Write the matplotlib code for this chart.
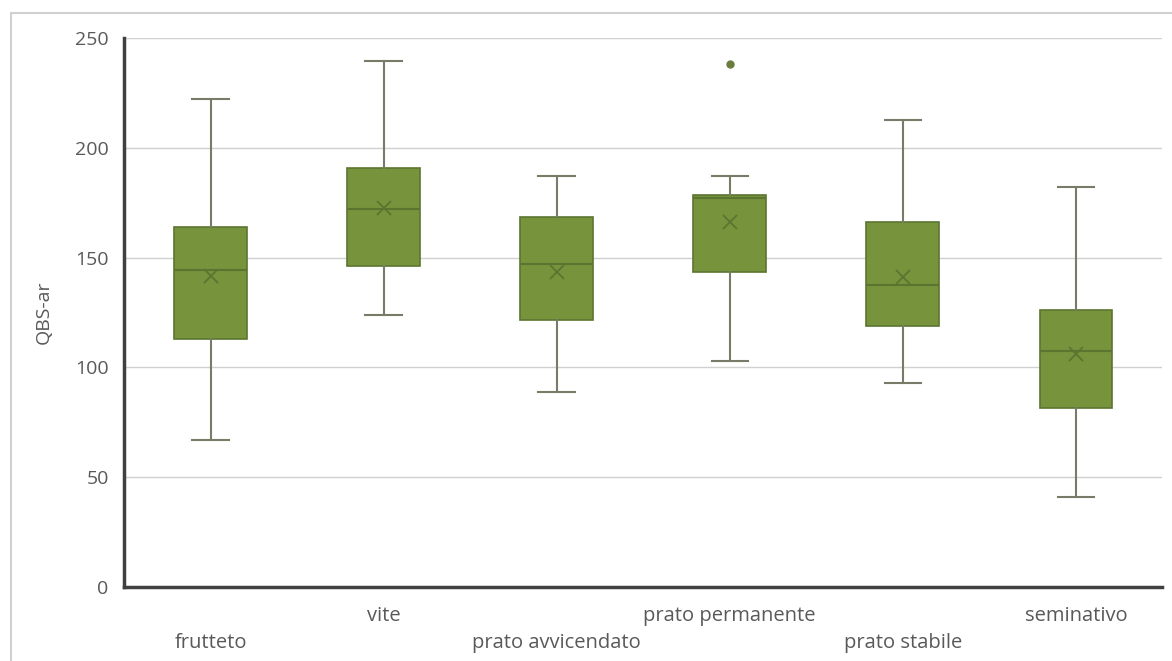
import matplotlib
matplotlib.use("Agg")
import matplotlib.pyplot as plt
from matplotlib.patches import Rectangle

plt.rcParams['font.family'] = ['Open Sans', 'DejaVu Sans']

categories = ['frutteto', 'vite', 'prato avvicendato', 'prato permanente', 'prato stabile', 'seminativo']
whis_lo = [67, 124, 89, 103, 93, 41]
q1 = [113, 146, 121.5, 143.5, 119, 81.5]
median = [144.5, 172, 147, 177, 137.5, 107.5]
mean = [141.5, 172.5, 143.5, 166, 141, 106]
q3 = [164, 191, 168.5, 178.5, 166, 126]
whis_hi = [222, 239.5, 187, 187, 212.5, 182]
outliers = [[], [], [], [238], [], []]

stats = []
for i, name in enumerate(categories):
    stats.append(dict(label=name, whislo=whis_lo[i], q1=q1[i], med=median[i],
                      q3=q3[i], whishi=whis_hi[i], mean=mean[i], fliers=outliers[i]))

fig = plt.figure(figsize=(11.72, 6.61), dpi=100)
ax = fig.add_axes([0.1058, 0.112, 0.886, 0.8305])

# cornice grigia del grafico
fig.patches.append(Rectangle((0.0094, -0.1), 1.2, 1.08, transform=fig.transFigure,
                             fill=False, edgecolor='#d0d0d0', linewidth=1.5))

green = '#77933C'
dark = '#5b7530'
grey = '#7a7a68'
ax.bxp(stats, positions=range(len(categories)), widths=0.42, patch_artist=True,
       showmeans=True,
       boxprops=dict(facecolor=green, edgecolor=dark, linewidth=1.2),
       medianprops=dict(color=dark, linewidth=1.5),
       whiskerprops=dict(color=grey, linewidth=1.5),
       capprops=dict(color=grey, linewidth=1.5),
       meanprops=dict(marker='x', markeredgecolor=dark, markersize=10, markeredgewidth=1.3),
       flierprops=dict(marker='o', markerfacecolor='#6b7d3e', markeredgecolor='#6b7d3e', markersize=5))

ax.set_xlim(-0.5, len(categories) - 0.5)
ax.set_ylim(0, 250)
ax.set_yticks(range(0, 251, 50))
ax.set_xticks(range(len(categories)))
ax.set_xticklabels(categories)

# griglia e assi
ax.grid(axis='y', color='#d0d0d0', linewidth=1)
ax.set_axisbelow(True)
for s in ['top', 'right']:
    ax.spines[s].set_visible(False)
for s in ['left', 'bottom']:
    ax.spines[s].set_color('#404040')
    ax.spines[s].set_linewidth(2.5)

ax.tick_params(axis='y', length=0, pad=11, labelsize=14, labelcolor='#595959')
ax.tick_params(axis='x', length=0, labelsize=14.5, labelcolor='#595959')
# etichette sfalsate
for i, tick in enumerate(ax.xaxis.get_major_ticks()):
    tick.set_pad(33 if i % 2 == 0 else 14)

ax.set_ylabel('QBS-ar', fontsize=14, color='#595959', labelpad=16)

fig.savefig('out.png', dpi=100)
